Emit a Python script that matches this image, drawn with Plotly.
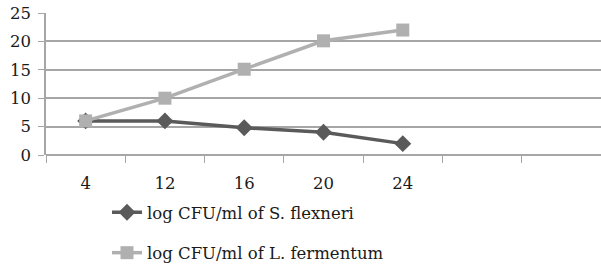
import plotly.graph_objects as go

categories = ["4", "12", "16", "20", "24"]
n_slots = 7
s_flexneri = [6, 6, 4.8, 4, 2]
l_fermentum = [6, 10, 15.1, 20.1, 22]
y_ticks = [0, 5, 10, 15, 20, 25]

FONT = "DejaVu Serif"
FS = 16.5
GRID = "#a6a6a6"
xpos = list(range(len(categories)))

fig = go.Figure()
fig.add_trace(go.Scatter(
    x=xpos, y=s_flexneri, name="log CFU/ml of S. flexneri", mode="lines+markers",
    legendgroup="a",
    line=dict(color="#5a5a5a", width=3.5),
    marker=dict(symbol="diamond", size=13, color="#5a5a5a"),
))
fig.add_trace(go.Scatter(
    x=xpos, y=l_fermentum, name="log CFU/ml of L. fermentum", mode="lines+markers",
    legendgroup="b",
    line=dict(color="#b0b0b0", width=3.5),
    marker=dict(symbol="square", size=13, color="#b0b0b0"),
))

fig.update_layout(
    width=601, height=267,
    margin=dict(l=46, r=0, t=13, b=112, autoexpand=False),
    paper_bgcolor="white", plot_bgcolor="white",
    font=dict(family=FONT, size=FS, color="#1a1a1a"),
    showlegend=True,
    legend=dict(orientation="v", xref="container", yref="container",
                x=107 / 601, y=1 - 195 / 267, xanchor="left", yanchor="top",
                font=dict(family=FONT, size=FS), tracegroupgap=16,
                bgcolor="rgba(0,0,0,0)"),
    xaxis=dict(
        automargin=False,
        range=[-0.5, n_slots - 0.5], tickvals=xpos, ticktext=categories,
        ticks="", showgrid=False, zeroline=False, showline=False,
        ticklabelstandoff=16,
        minor=dict(tickvals=[i - 0.5 for i in range(n_slots + 1)], ticks="outside",
                   ticklen=7, tickcolor=GRID, showgrid=False),
        tickfont=dict(family=FONT, size=FS),
    ),
    yaxis=dict(
        automargin=False,
        range=[0, 25], tickvals=y_ticks, showgrid=True, gridcolor=GRID, gridwidth=1.5,
        zeroline=True, zerolinecolor=GRID, zerolinewidth=1.5,
        showline=True, linecolor=GRID, linewidth=1.5,
        ticks="outside", ticklen=6, tickcolor=GRID,
        ticklabelstandoff=4,
        tickfont=dict(family=FONT, size=FS),
    ),
)

fig.write_html("out.html", config={"displayModeBar": False},
               post_script="document.body.style.margin='0';")
